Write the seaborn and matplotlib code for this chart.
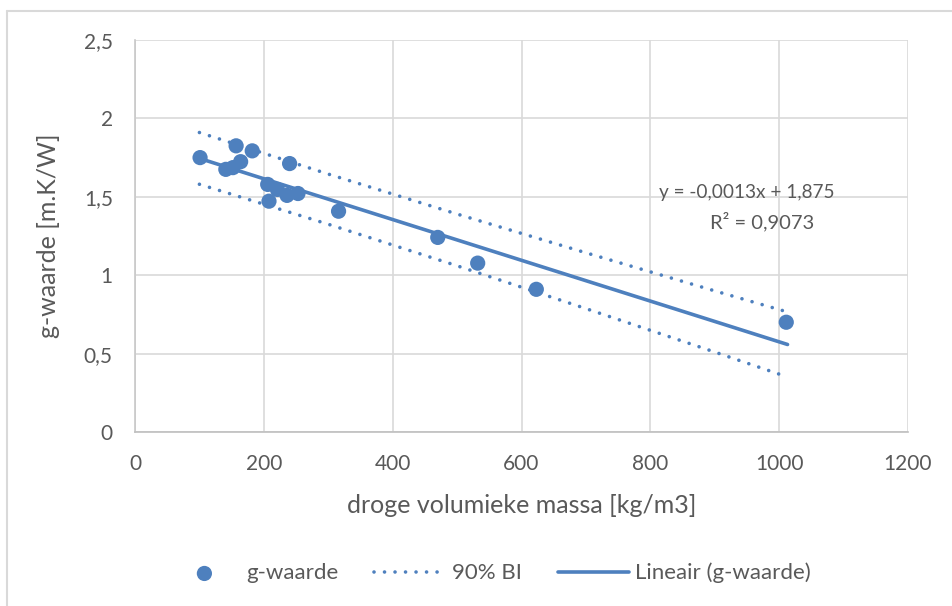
import matplotlib
matplotlib.use("Agg")
import matplotlib.pyplot as plt
from matplotlib.lines import Line2D
from matplotlib.ticker import FuncFormatter, FixedLocator
import pandas as pd
import seaborn as sns

# Measurements: dry bulk density vs g-value
density = [101, 141, 152, 164, 157, 182, 240, 206, 221, 236, 253, 208, 316, 470, 532, 623, 1011]
g_value = [1.750, 1.675, 1.686, 1.724, 1.825, 1.793, 1.712, 1.579, 1.547, 1.509,
           1.521, 1.472, 1.408, 1.241, 1.077, 0.910, 0.700]

# Linear trend line as reported
slope = -0.0013
intercept = 1.875
r_squared = 0.9073
fit_range = [100, 1013]

# 90% prediction band
band_x = [100, 300, 500, 700, 900, 1010]
band_upper = [1.910, 1.645, 1.390, 1.143, 0.900, 0.769]
band_lower = [1.580, 1.325, 1.060, 0.787, 0.510, 0.355]

x_ticks = [0, 200, 400, 600, 800, 1000, 1200]
y_ticks = [0, 0.5, 1, 1.5, 2, 2.5]

BLUE = "#4E80BE"
TEXT = "#595959"
GRID = "#D9D9D9"

sns.set_theme(style="white")
plt.rcParams["font.family"] = ["Lato", "DejaVu Sans"]

W, H = 952, 606
fig = plt.figure(figsize=(W / 100, H / 100), dpi=100)
ax = fig.add_axes([135 / W, 1 - 432 / H, 773 / W, 392 / H])

points = pd.DataFrame({"x": density, "y": g_value})
fit = pd.DataFrame({"x": fit_range, "y": [slope * v + intercept for v in fit_range]})
band = pd.DataFrame({"x": band_x, "upper": band_upper, "lower": band_lower})

sns.scatterplot(data=points, x="x", y="y", ax=ax, s=120, color=BLUE,
                edgecolor="none", label="g-waarde", zorder=3)

dotted = (0, (0.01, 2.9))
sns.lineplot(data=band, x="x", y="upper", ax=ax, color=BLUE, lw=2.6,
             linestyle=dotted, dash_capstyle="round", label="90% BI",
             sort=True, estimator=None, zorder=2)
sns.lineplot(data=band, x="x", y="lower", ax=ax, color=BLUE, lw=2.6,
             linestyle=dotted, dash_capstyle="round", label="_nolegend_",
             sort=True, estimator=None, zorder=2)
sns.lineplot(data=fit, x="x", y="y", ax=ax, color=BLUE, lw=2.6,
             label="Lineair (g-waarde)", estimator=None, zorder=2)

ax.set_xlim(0, 1200)
ax.set_ylim(0, 2.5)
ax.xaxis.set_major_locator(FixedLocator(x_ticks))
ax.yaxis.set_major_locator(FixedLocator(y_ticks))
comma = FuncFormatter(lambda v, p: f"{v:g}".replace(".", ","))
ax.xaxis.set_major_formatter(comma)
ax.yaxis.set_major_formatter(comma)
ax.grid(True, color=GRID, lw=1.2)
ax.set_axisbelow(True)
for side in ("top", "right"):
    ax.spines[side].set_visible(False)
ax.spines["left"].set_color("#C8C8C8")
ax.spines["bottom"].set_color("#BFBFBF")
ax.spines["left"].set_linewidth(1.2)
ax.spines["bottom"].set_linewidth(1.2)
ax.tick_params(axis="both", length=0, labelsize=15, labelcolor=TEXT)
ax.tick_params(axis="x", pad=16)
ax.tick_params(axis="y", pad=16)

ax.set_xlabel("droge volumieke massa [kg/m3]", fontsize=18, color=TEXT, labelpad=14)
ax.set_ylabel("g-waarde [m.K/W]", fontsize=18, color=TEXT, labelpad=17)

eq = f"y = {slope:.4f}x + {intercept:.3f}".replace(".", ",")
ax.text(0.792, 0.612, eq, transform=ax.transAxes, ha="center", va="center",
        fontsize=13.7, color=TEXT)
ax.text(0.811, 0.536, f"R² = {r_squared:.4f}".replace(".", ","), transform=ax.transAxes,
        ha="center", va="center", fontsize=14.5, color=TEXT)

handles, labels = ax.get_legend_handles_labels()
ax.get_legend().remove()
fig.legend(handles, labels, loc="center", bbox_to_anchor=(490 / W, 1 - 573 / H),
           ncol=3, frameon=False, fontsize=16, labelcolor=TEXT,
           handlelength=3.2, handletextpad=0.3, columnspacing=1.6, markerscale=1.0)

# chart-area border (top and left edges)
fig.add_artist(Line2D([7 / W, 1], [1 - 11 / H, 1 - 11 / H], color=GRID, lw=1.5))
fig.add_artist(Line2D([7 / W, 7 / W], [0, 1 - 11 / H], color=GRID, lw=1.5))

fig.savefig("out.png", dpi=100)
